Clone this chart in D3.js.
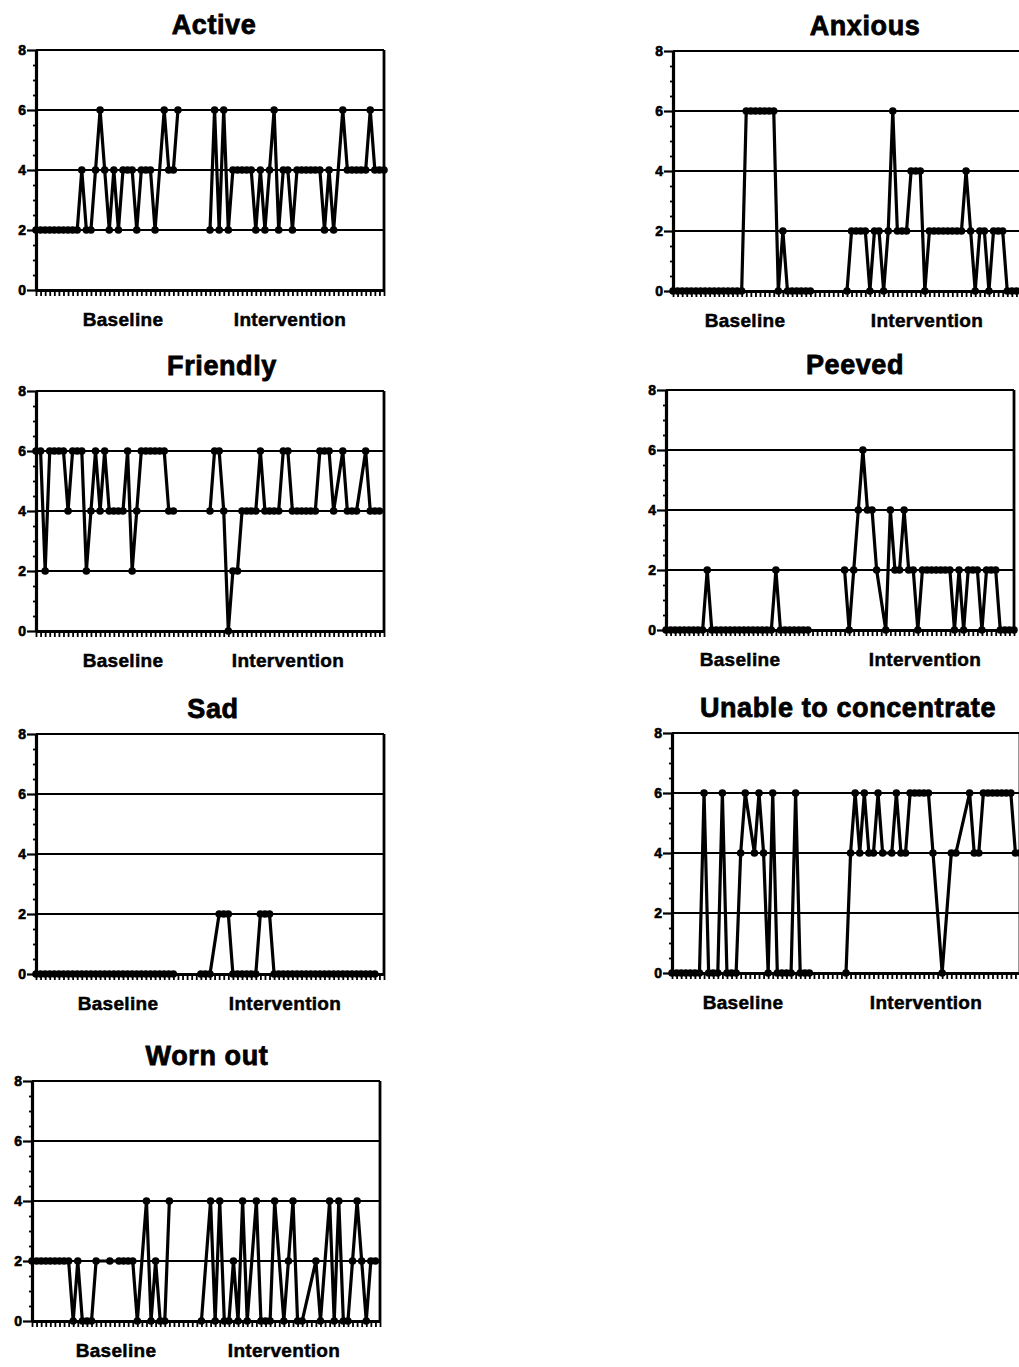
<!DOCTYPE html>
<html lang="en">
<head>
  <meta charset="UTF-8">
  <title>Self-rated mood, baseline vs intervention</title>
  <script src="https://d3js.org/d3.v7.min.js"></script>
  <style>
    body { margin: 0; background: #fff; }
    svg { display: block; }
    text {
      font-family: "Liberation Sans", Arial, Helvetica, sans-serif;
      font-weight: bold;
      fill: #000;
    }
  </style>
</head>
<body>
  <svg width="1019" height="1367"></svg>

  <script>
    // sessions 0..76, baseline before phaseBreak, intervention after
    const sessions = d3.range(0, 77);
    const phaseBreak = 34;
    const yTicks = [0, 2, 4, 6, 8];
    const phaseLabels = ["Baseline", "Intervention"];

    // ratings per session (null = no rating)
    const active = [
      2,2,2,2,2,2,2,2,2,2,
      4,2,2,4,6,4,2,4,2,4,
      4,4,2,4,4,4,2,null,6,4,
      4,6,null,null,null,null,null,null,2,6,
      2,6,2,4,4,4,4,4,2,4,
      2,4,6,2,4,4,2,4,4,4,
      4,4,4,2,4,2,null,6,4,4,
      4,4,4,6,4,4,4
    ];
    const anxious = [
      0,0,0,0,0,0,0,0,0,0,
      0,0,0,0,0,0,6,6,6,6,
      6,6,6,0,2,0,0,0,0,0,
      0,null,null,null,null,null,null,null,0,2,
      2,2,2,0,2,2,0,2,6,2,
      2,2,4,4,4,0,2,2,2,2,
      2,2,2,2,4,2,0,2,2,0,
      2,2,2,0,0,0,0
    ];
    const friendly = [
      6,6,2,6,6,6,6,4,6,6,
      6,2,4,6,4,6,4,4,4,4,
      6,2,4,6,6,6,6,6,6,4,
      4,null,null,null,null,null,null,null,4,6,
      6,4,0,2,2,4,4,4,4,6,
      4,4,4,4,6,6,4,4,4,4,
      4,4,6,6,6,4,null,6,4,4,
      4,null,6,4,4,4,null
    ];
    const peeved = [
      0,0,0,0,0,0,0,0,0,2,
      0,0,0,0,0,0,0,0,0,0,
      0,0,0,0,2,0,0,0,0,0,
      0,0,null,null,null,null,null,null,null,2,
      0,2,4,6,4,4,2,null,0,4,
      2,2,4,2,2,0,2,2,2,2,
      2,2,2,0,2,0,2,2,2,0,
      2,2,2,0,0,0,0
    ];
    const sad = [
      0,0,0,0,0,0,0,0,0,0,
      0,0,0,0,0,0,0,0,0,0,
      0,0,0,0,0,0,0,0,0,0,
      0,null,null,null,null,null,0,0,0,null,
      2,2,2,0,0,0,0,0,0,2,
      2,2,0,0,0,0,0,0,0,0,
      0,0,0,0,0,0,0,0,0,0,
      0,0,0,0,0,null,null
    ];
    const unable = [
      0,0,0,0,0,0,0,6,0,0,
      0,6,0,0,0,4,6,null,4,6,
      4,0,6,0,0,0,0,6,0,0,
      0,null,null,null,null,null,null,null,0,4,
      6,4,6,4,4,6,4,null,4,6,
      4,4,6,6,6,6,6,4,null,0,
      null,4,4,null,null,6,4,4,6,6,
      6,6,6,6,6,4,4
    ];
    const wornOut = [
      2,2,2,2,2,2,2,2,2,0,
      2,0,0,0,2,null,null,2,null,2,
      2,2,2,0,null,4,0,2,0,0,
      4,null,null,null,null,null,null,0,null,4,
      0,4,0,0,2,0,4,0,null,4,
      0,0,0,4,null,0,2,4,0,0,
      null,null,2,0,null,4,0,4,0,0,
      2,4,2,0,2,2,null
    ];

    const panels = [
      { title: "Active", values: active, left: 36, top: 50, titleX: 214, labelX: [87, 254] },
      { title: "Anxious", values: anxious, left: 673, top: 51, titleX: 865, labelX: [72, 254] },
      { title: "Friendly", values: friendly, left: 36, top: 391, titleX: 222, labelX: [87, 252] },
      { title: "Peeved", values: peeved, left: 666, top: 390, titleX: 855, labelX: [74, 259] },
      { title: "Sad", values: sad, left: 36, top: 734, titleX: 213, labelX: [82, 249] },
      { title: "Unable to concentrate", values: unable, left: 672, top: 733, titleX: 848, labelX: [71, 254] },
      { title: "Worn out", values: wornOut, left: 32, top: 1081, titleX: 207, labelX: [84, 252] }
    ];

    const W = 348, H = 240;
    const svg = d3.select("svg");
    const x = d3.scaleLinear().domain([0, 76]).range([0, W]);
    const y = d3.scaleLinear().domain([0, 8]).range([H, 0]);

    const line = d3.line()
      .x(d => x(d.i))
      .y(d => y(d.v));

    panels.forEach(p => {
      const g = svg.append("g").attr("transform", `translate(${p.left},${p.top})`);

      // horizontal rules at 2,4,6,8
      g.selectAll(".grid")
        .data(yTicks.filter(d => d > 0))
        .join("line")
        .attr("x1", 0).attr("x2", W)
        .attr("y1", d => y(d)).attr("y2", d => y(d))
        .attr("stroke", "#000")
        .attr("stroke-width", 2.2);

      // right border
      g.append("line")
        .attr("x1", W).attr("x2", W)
        .attr("y1", y(8)).attr("y2", y(0))
        .attr("stroke", "#000")
        .attr("stroke-width", 2.8);

      // minor ticks on the y axis
      g.append("g")
        .call(d3.axisLeft(y)
          .tickValues(d3.range(0.5, 8, 0.5).filter(d => d % 2 !== 0))
          .tickSize(3)
          .tickFormat(""))
        .call(a => a.select(".domain").remove())
        .call(a => a.selectAll("line").attr("stroke-width", 1.8));

      // y axis
      g.append("g")
        .call(d3.axisLeft(y)
          .tickValues(yTicks)
          .tickSize(9)
          .tickSizeOuter(0)
          .tickPadding(1)
          .tickFormat(d3.format("d")))
        .call(a => a.select(".domain").attr("stroke-width", 3.2))
        .call(a => a.selectAll(".tick line").attr("stroke-width", 2.2))
        .call(a => a.selectAll("text")
          .attr("font-size", 14)
          .attr("stroke", "#000")
          .attr("stroke-width", 0.6)
          .style("font-family", "'Liberation Sans', Arial, sans-serif")
          .style("font-weight", "bold"));

      // x axis with one tick per session
      g.append("g")
        .attr("transform", `translate(0,${H})`)
        .call(d3.axisBottom(x)
          .tickValues(sessions)
          .tickSize(6)
          .tickSizeOuter(0)
          .tickFormat(""))
        .call(a => a.select(".domain").attr("stroke-width", 3.2))
        .call(a => a.selectAll(".tick line").attr("stroke-width", 1.8));

      // data, one path per phase
      const pts = p.values.map((v, i) => ({ i, v })).filter(d => d.v !== null);
      const phases = [
        pts.filter(d => d.i < phaseBreak),
        pts.filter(d => d.i >= phaseBreak)
      ];

      g.selectAll(".phase")
        .data(phases)
        .join("path")
        .attr("d", line)
        .attr("fill", "none")
        .attr("stroke", "#000")
        .attr("stroke-width", 3.2)
        .attr("stroke-linejoin", "round");

      g.selectAll(".dot")
        .data(pts)
        .join("circle")
        .attr("cx", d => x(d.i))
        .attr("cy", d => y(d.v))
        .attr("r", 3.8)
        .attr("fill", "#000");

      // title
      svg.append("text")
        .attr("x", p.titleX)
        .attr("y", p.top - 16)
        .attr("text-anchor", "middle")
        .attr("font-size", 27)
        .attr("letter-spacing", 0.6)
        .attr("stroke", "#000")
        .attr("stroke-width", 0.8)
        .text(p.title);

      // phase labels
      phaseLabels.forEach((lab, k) => {
        svg.append("text")
          .attr("x", p.left + p.labelX[k])
          .attr("y", p.top + H + 36)
          .attr("text-anchor", "middle")
          .attr("font-size", 19)
          .attr("letter-spacing", 0.3)
          .attr("stroke", "#000")
          .attr("stroke-width", 0.5)
          .text(lab);
      });
    });
  </script>
</body>
</html>
